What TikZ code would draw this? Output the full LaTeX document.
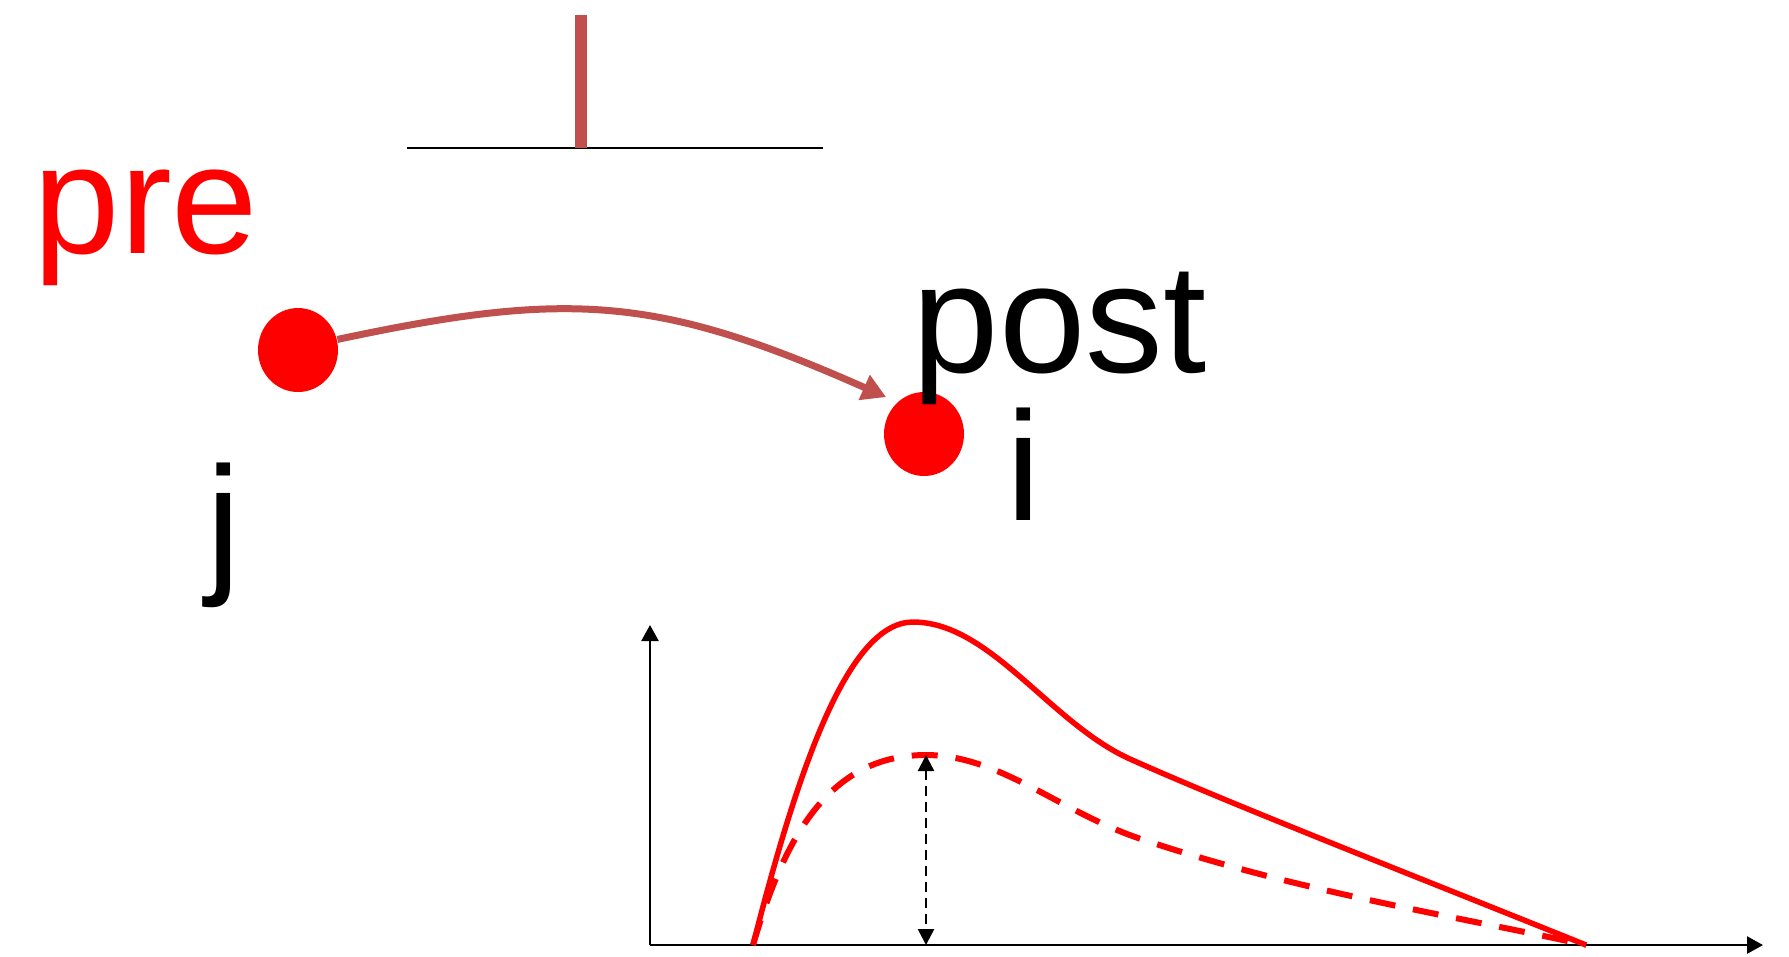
\documentclass[tikz,border=0pt]{standalone}
\usepackage{fontspec}
\setmainfont{Liberation Sans}
\usepackage{tikz}
\usetikzlibrary{arrows.meta, positioning, shapes.geometric}
\definecolor{synred}{RGB}{192,80,77}
\tikzstyle{neuron}  = [ellipse, fill=red, minimum width=8mm, minimum height=8.4mm, inner sep=0pt]
\tikzstyle{bigtext} = [inner sep=0pt, font=\fontsize{44.2pt}{50pt}\selectfont]
\tikzstyle{synapse} = [synred, line width=0.7mm, -{Triangle[length=2.4mm,width=2.6mm]}]
\tikzstyle{axis}    = [black, line width=0.25mm, -{Triangle[length=1.6mm,width=1.7mm]}]
\tikzstyle{trace}   = [red, line width=0.55mm]
\tikzstyle{weight}  = [black, line width=0.25mm, dash pattern=on 1mm off 0.6mm, {Triangle[length=1.6mm,width=1.6mm]}-{Triangle[length=1.6mm,width=1.6mm]}]

\begin{document}
\begin{tikzpicture}[x=0.1mm, y=-0.1mm]
\useasboundingbox (0,0) rectangle (1789,956);

% spike on the time line
\draw [line width=0.2mm] (407,148) -- (823,148);
\fill [synred] (575,15) rectangle (587,148);

% neurons and labels
\node (jdot) [neuron] at (298,350) {};
\node (idot) [neuron] at (924,434) {};
\node (pretext) [bigtext, red, anchor=base west] at (33,253) {pre};
\node (posttext) [bigtext, anchor=base west] at (912,372) {post};
\node (jtext) [bigtext, anchor=base] at (224,575) {j};
\node (itext) [bigtext, anchor=base] at (1024,520) {i};

% synapse j -> i
\draw [synapse, shorten >=1.2mm] (jdot.15) .. controls (569,290) and (658,296) .. (idot.130);

% PSP plot
\coordinate (origin) at (650,945);
\coordinate (ytop) at (650,625);
\coordinate (xend) at (1763,945);
\coordinate (onset) at (753,945);
\coordinate (stop) at (1586,945);
\coordinate (peak) at (926,755);
\coordinate (foot) at (926,945);

\draw [axis] (origin) -- (ytop);
\draw [axis] (origin) -- (xend);

\draw [trace] (onset) .. controls (800,760) and (850,622) .. (913,622)
  .. controls (990,622) and (1050,723) .. (1130,759)
  .. controls (1230,804) and (1450,890) .. (stop);
\draw [trace, line width=0.6mm, dash pattern=on 2.6mm off 1.8mm] (onset) .. controls (785,835) and (830,755) .. (peak)
  .. controls (1000,755) and (1060,812) .. (1141,839)
  .. controls (1300,892) and (1450,915) .. (stop);

\draw [weight] (peak) -- (foot);

\end{tikzpicture}
\end{document}
